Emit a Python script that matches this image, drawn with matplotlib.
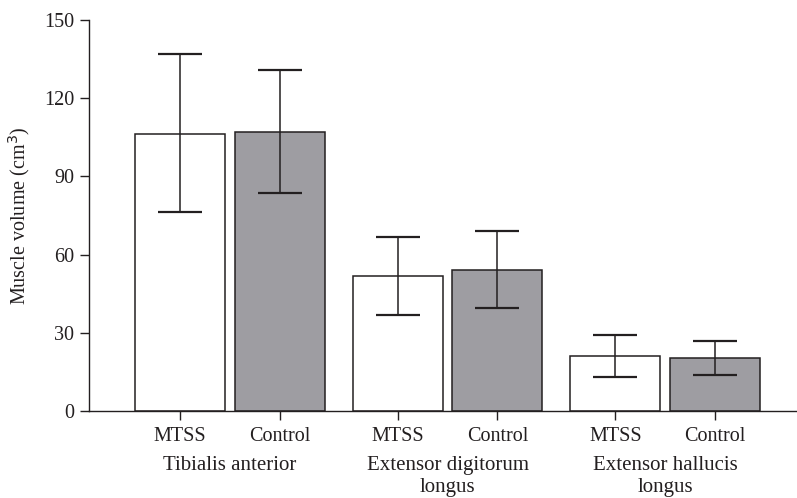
import matplotlib
matplotlib.use('Agg')
import matplotlib.pyplot as plt
import matplotlib.transforms as mtransforms
import numpy as np

plt.rcParams['font.family'] = ['Liberation Serif', 'DejaVu Serif']

muscles = ['Tibialis anterior', 'Extensor digitorum\nlongus', 'Extensor hallucis\nlongus']
groups = ['MTSS', 'Control']
mtss_mean = [106.3, 51.8, 21.1]
mtss_upper = [137.0, 66.9, 29.2]
mtss_lower = [76.3, 36.8, 13.0]
ctrl_mean = [107.0, 54.0, 20.3]
ctrl_upper = [130.8, 69.0, 26.9]
ctrl_lower = [83.6, 39.4, 13.8]

fig = plt.figure(figsize=(7.97, 4.98), dpi=100)
ax = fig.add_axes([0.1117, 0.1747, 0.8883, 0.7851])

centers = np.arange(len(muscles)) * 2.18
w = 0.9
edge = '#231f20'
x_m = centers - 0.5
x_c = centers + 0.5

ax.bar(x_m, mtss_mean, width=w, color='white', edgecolor=edge, linewidth=1.1, zorder=2)
ax.bar(x_c, ctrl_mean, width=w, color='#9e9da2', edgecolor=edge, linewidth=1.1, zorder=2)

for xs, mean, up, lo in [(x_m, mtss_mean, mtss_upper, mtss_lower),
                         (x_c, ctrl_mean, ctrl_upper, ctrl_lower)]:
    mean = np.array(mean)
    yerr = [mean - np.array(lo), np.array(up) - mean]
    ax.errorbar(xs, mean, yerr=yerr, fmt='none', ecolor=edge, elinewidth=1.1,
                capsize=16, capthick=1.6, zorder=3)

ax.set_ylim(0, 150)
ax.set_yticks([0, 30, 60, 90, 120, 150])
ax.set_xlim(-1.41, 5.68)
ax.set_xticks(np.concatenate([x_m, x_c]))
ax.set_xticklabels(['MTSS'] * 3 + ['Control'] * 3)

ax.spines['top'].set_visible(False)
ax.spines['right'].set_visible(False)
for s in ['left', 'bottom']:
    ax.spines[s].set_linewidth(1.0)
    ax.spines[s].set_color(edge)
ax.tick_params(axis='both', direction='out', length=6.5, width=1.0, color=edge,
               labelsize=14.5, colors='#231f20')
ax.tick_params(axis='x', pad=5)
ax.tick_params(axis='y', pad=4)
ax.set_ylabel('Muscle volume (cm$^3$)', fontsize=14.5, color='#231f20', labelpad=9)

trans = mtransforms.blended_transform_factory(ax.transData, ax.transAxes)
for cx, name in zip(centers, muscles):
    ax.text(cx, -0.116, name, transform=trans, ha='center', va='top',
            fontsize=15, color='#231f20', linespacing=1.2)

fig.savefig('out.png', dpi=100)
